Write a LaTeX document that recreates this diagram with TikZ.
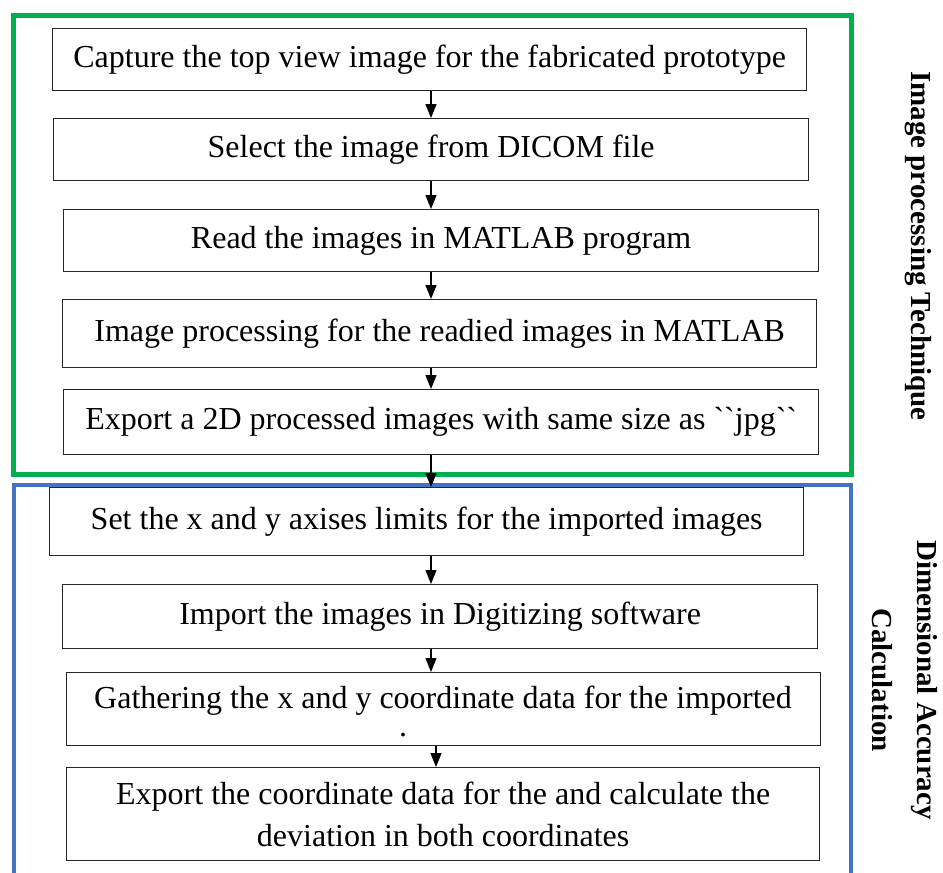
\documentclass[tikz,border=0pt]{standalone}
\usepackage{fontspec}
\setmainfont{Liberation Serif}
\newfontfamily\gravefont{Liberation Serif}[Ligatures=TeXOff]
\usetikzlibrary{arrows.meta}
\definecolor{framegreen}{RGB}{0,176,80}
\definecolor{frameblue}{RGB}{68,114,196}
\begin{document}
\begin{tikzpicture}[x=1pt,y=-1pt,
  stepbox/.style={draw=black!85,line width=1.3pt,inner sep=0pt,anchor=north west,
    font=\fontsize{32}{42}\selectfont,align=center},
  arr/.style={line width=1.3pt,-{Triangle[width=11pt,length=14pt]}},
  sidelabel/.style={font=\fontsize{29}{45}\selectfont\bfseries,rotate=-90,align=center}]
\useasboundingbox (0,0) rectangle (943,873);
% frames
\draw[framegreen,line width=5pt] (13.5,15) rectangle (851,474.5);
\draw[frameblue,line width=4pt] (14,890) -- (14,484.5) -- (851,484.5) -- (851,890);
% boxes
\node[stepbox,minimum width=754pt,minimum height=62pt] (b1) at (52,28) {Capture the top view image for the fabricated prototype};
\node[stepbox,minimum width=755pt,minimum height=62pt] (b2) at (53,118) {Select the image from DICOM file};
\node[stepbox,minimum width=755pt,minimum height=62pt] (b3) at (63,209) {Read the images in MATLAB program};
\node[stepbox,minimum width=754pt,minimum height=68pt] (b4) at (62,299) {Image processing for the readied images in MATLAB};
\node[stepbox,minimum width=755pt,minimum height=65pt] (b5) at (63,389) {Export a 2D processed images with same size as {\gravefont ``jpg``}};
\node[stepbox,minimum width=754pt,minimum height=68pt] (b6) at (49,487) {Set the x and y axises limits for the imported images};
\node[stepbox,minimum width=755pt,minimum height=64pt] (b7) at (62,584) {Import the images in Digitizing software};
\node[stepbox,minimum width=754pt,minimum height=73pt] (b8) at (66,672) {};
\node[font=\fontsize{32}{42}\selectfont,inner sep=0pt] (t8) at (443,701) {Gathering the x and y coordinate data for the imported};
\node[font=\fontsize{32}{42}\selectfont,inner sep=0pt,text height=3pt,text depth=0pt] (d8) at (403,734.5) {.};
\node[stepbox,minimum width=753pt,minimum height=93pt] (b9) at (66,767) {Export the coordinate data for the and calculate the\\deviation in both coordinates};
% arrows
\coordinate (ax) at (431,0);
\coordinate (ax2) at (436,0);
\draw[arr] (b1.south -| ax) -- (b2.north -| ax);
\draw[arr] (b2.south -| ax) -- (b3.north -| ax);
\draw[arr] (b3.south -| ax) -- (b4.north -| ax);
\draw[arr] (b4.south -| ax) -- (b5.north -| ax);
\draw[arr] (b5.south -| ax) -- (b6.north -| ax);
\draw[arr] (b6.south -| ax) -- (b7.north -| ax);
\draw[arr] (b7.south -| ax) -- (b8.north -| ax);
\draw[arr] (b8.south -| ax2) -- (b9.north -| ax2);
% side labels
\node[sidelabel] (s1) at (918,246) {Image processing Technique};
\node[sidelabel] (s2) at (905,680) {Dimensional Accuracy\\Calculation};
\end{tikzpicture}
\end{document}
